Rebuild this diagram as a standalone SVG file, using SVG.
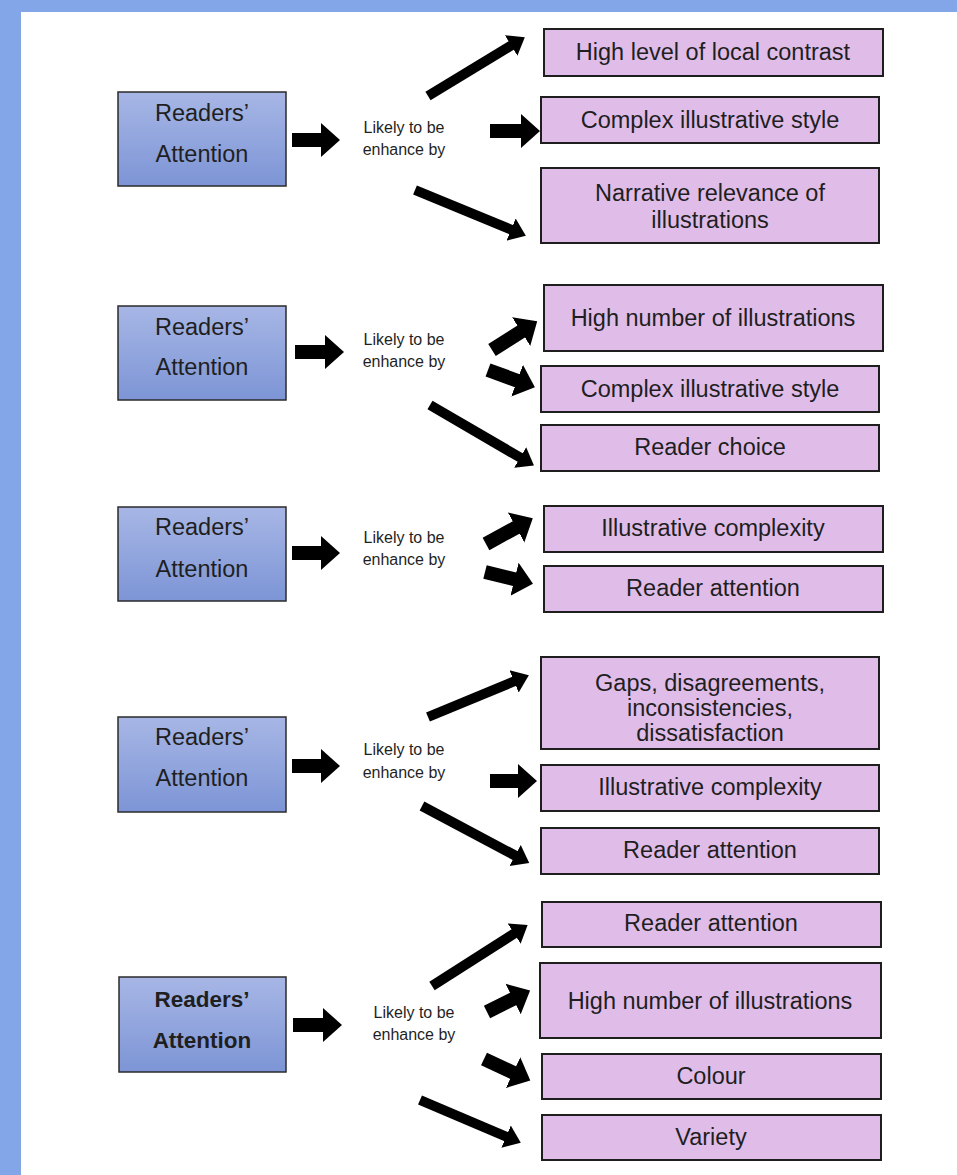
<svg xmlns="http://www.w3.org/2000/svg" width="957" height="1175" viewBox="0 0 957 1175">
<style>
.src{fill:url(#blueGrad);stroke:#2b2b2b;stroke-width:1.5}
.tgt{fill:#e0bde9;stroke:#1e1e1e;stroke-width:2}
.t{font-family:"Liberation Sans",Arial,sans-serif;fill:#1f1f1f;text-anchor:middle}
.st{font-size:23.5px}
.stb{font-size:22.5px;font-weight:bold}
.lk{font-size:16px}
.tt{font-size:23.5px}
.fat{stroke:#000;stroke-width:14;fill:none;marker-end:url(#headL)}
.thin{stroke:#000;stroke-width:10;fill:none;marker-end:url(#headS)}
</style>
<defs>
<linearGradient id="blueGrad" x1="0" y1="0" x2="0" y2="1">
<stop offset="0" stop-color="#a7b6e5"/>
<stop offset="1" stop-color="#7d95d6"/>
</linearGradient>
<marker id="headL" markerUnits="userSpaceOnUse" markerWidth="20" markerHeight="36" viewBox="0 -18 20 36" refX="1" refY="0" orient="auto">
<path d="M0,-17 L19,0 L0,17 Z" fill="#000"/>
</marker>
<marker id="headS" markerUnits="userSpaceOnUse" markerWidth="17" markerHeight="26" viewBox="0 -13 17 26" refX="1" refY="0" orient="auto">
<path d="M0,-12 L16,0 L0,12 Z" fill="#000"/>
</marker>
</defs>
<rect x="0" y="0" width="957" height="1175" fill="#ffffff"/>
<rect x="0" y="0" width="957" height="12" fill="#83a6e8"/>
<rect x="0" y="0" width="21" height="1175" fill="#83a6e8"/>

<g id="connectors">
<line class="fat" x1="292" y1="140" x2="322" y2="140"/>
<line class="thin" x1="428" y1="96" x2="512" y2="45"/>
<line class="fat" x1="490" y1="131" x2="522" y2="131"/>
<line class="thin" x1="415" y1="190" x2="512" y2="230"/>

<line class="fat" x1="295" y1="352" x2="326" y2="352"/>
<line class="fat" x1="492" y1="350" x2="522" y2="331"/>
<line class="fat" x1="488" y1="370" x2="518" y2="381"/>
<line class="thin" x1="430" y1="405" x2="521" y2="458"/>

<line class="fat" x1="292" y1="553" x2="322" y2="553"/>
<line class="fat" x1="486" y1="544" x2="517" y2="527"/>
<line class="fat" x1="485" y1="572" x2="515.5" y2="579.5"/>

<line class="fat" x1="292" y1="766" x2="322" y2="766"/>
<line class="thin" x1="428" y1="717" x2="515" y2="681"/>
<line class="fat" x1="490" y1="781" x2="519" y2="781"/>
<line class="thin" x1="422" y1="806" x2="516" y2="856"/>

<line class="fat" x1="293" y1="1025" x2="324" y2="1025"/>
<line class="thin" x1="432" y1="986" x2="515" y2="933"/>
<line class="fat" x1="487" y1="1012" x2="514" y2="998.5"/>
<line class="fat" x1="484" y1="1059" x2="514" y2="1073"/>
<line class="thin" x1="420" y1="1100" x2="507" y2="1137"/>
</g>

<!-- Section 1 -->
<g id="s1-source">
<rect class="src" x="118" y="92" width="168" height="94"/>
<text class="t st" x="202" y="121">Readers’</text>
<text class="t st" x="202" y="162">Attention</text>
</g>
<g id="s1-label">
<text class="t lk" x="404" y="133">Likely to be</text>
<text class="t lk" x="404" y="155">enhance by</text>
</g>
<g id="s1-t1">
<rect class="tgt" x="544" y="29" width="339" height="47"/>
<text class="t tt" x="713" y="60">High level of local contrast</text>
</g>
<g id="s1-t2">
<rect class="tgt" x="541" y="97" width="338" height="46"/>
<text class="t tt" x="710" y="128">Complex illustrative style</text>
</g>
<g id="s1-t3">
<rect class="tgt" x="541" y="168" width="338" height="75"/>
<text class="t tt" x="710" y="201">Narrative relevance of</text>
<text class="t tt" x="710" y="228">illustrations</text>
</g>

<!-- Section 2 -->
<g id="s2-source">
<rect class="src" x="118" y="306" width="168" height="94"/>
<text class="t st" x="202" y="335">Readers’</text>
<text class="t st" x="202" y="375">Attention</text>
</g>
<g id="s2-label">
<text class="t lk" x="404" y="345">Likely to be</text>
<text class="t lk" x="404" y="367">enhance by</text>
</g>
<g id="s2-t1">
<rect class="tgt" x="544" y="285" width="339" height="66"/>
<text class="t tt" x="713" y="326">High number of illustrations</text>
</g>
<g id="s2-t2">
<rect class="tgt" x="541" y="366" width="338" height="46"/>
<text class="t tt" x="710" y="397">Complex illustrative style</text>
</g>
<g id="s2-t3">
<rect class="tgt" x="541" y="425" width="338" height="46"/>
<text class="t tt" x="710" y="455">Reader choice</text>
</g>

<!-- Section 3 -->
<g id="s3-source">
<rect class="src" x="118" y="507" width="168" height="94"/>
<text class="t st" x="202" y="535">Readers’</text>
<text class="t st" x="202" y="577">Attention</text>
</g>
<g id="s3-label">
<text class="t lk" x="404" y="543">Likely to be</text>
<text class="t lk" x="404" y="565">enhance by</text>
</g>
<g id="s3-t1">
<rect class="tgt" x="544" y="506" width="339" height="46"/>
<text class="t tt" x="713" y="536">Illustrative complexity</text>
</g>
<g id="s3-t2">
<rect class="tgt" x="544" y="566" width="339" height="46"/>
<text class="t tt" x="713" y="596">Reader attention</text>
</g>

<!-- Section 4 -->
<g id="s4-source">
<rect class="src" x="118" y="717" width="168" height="95"/>
<text class="t st" x="202" y="745">Readers’</text>
<text class="t st" x="202" y="786">Attention</text>
</g>
<g id="s4-label">
<text class="t lk" x="404" y="755">Likely to be</text>
<text class="t lk" x="404" y="778">enhance by</text>
</g>
<g id="s4-t1">
<rect class="tgt" x="541" y="657" width="338" height="92"/>
<text class="t tt" x="710" y="691">Gaps, disagreements,</text>
<text class="t tt" x="710" y="716">inconsistencies,</text>
<text class="t tt" x="710" y="741">dissatisfaction</text>
</g>
<g id="s4-t2">
<rect class="tgt" x="541" y="765" width="338" height="46"/>
<text class="t tt" x="710" y="795">Illustrative complexity</text>
</g>
<g id="s4-t3">
<rect class="tgt" x="541" y="828" width="338" height="46"/>
<text class="t tt" x="710" y="858">Reader attention</text>
</g>

<!-- Section 5 -->
<g id="s5-source">
<rect class="src" x="119" y="977" width="167" height="95"/>
<text class="t stb" x="202" y="1007">Readers’</text>
<text class="t stb" x="202" y="1048">Attention</text>
</g>
<g id="s5-label">
<text class="t lk" x="414" y="1018">Likely to be</text>
<text class="t lk" x="414" y="1040">enhance by</text>
</g>
<g id="s5-t1">
<rect class="tgt" x="542" y="902" width="339" height="45"/>
<text class="t tt" x="711" y="931">Reader attention</text>
</g>
<g id="s5-t2">
<rect class="tgt" x="540" y="963" width="341" height="75"/>
<text class="t tt" x="710" y="1009">High number of illustrations</text>
</g>
<g id="s5-t3">
<rect class="tgt" x="542" y="1054" width="339" height="45"/>
<text class="t tt" x="711" y="1084">Colour</text>
</g>
<g id="s5-t4">
<rect class="tgt" x="542" y="1115" width="339" height="45"/>
<text class="t tt" x="711" y="1145">Variety</text>
</g>
</svg>
